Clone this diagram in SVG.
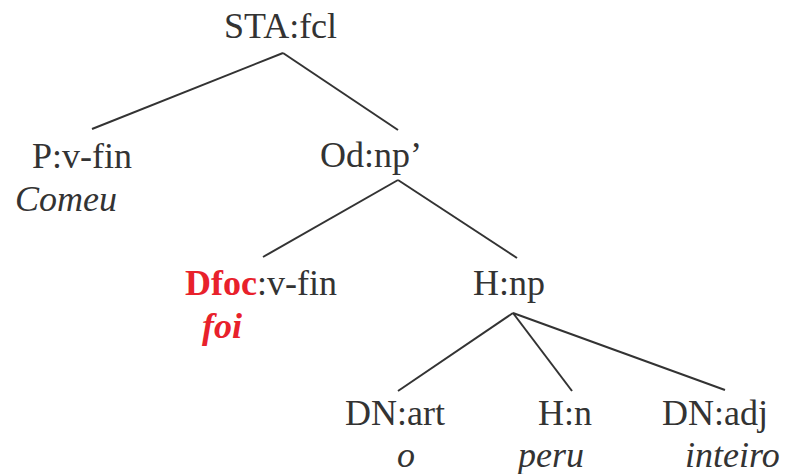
<svg xmlns="http://www.w3.org/2000/svg" width="786" height="474" viewBox="0 0 786 474">
<style>
.e{stroke:#333333;stroke-width:2;fill:none}
</style>
<rect width="786" height="474" fill="#ffffff"/>
<g id="edges">
<line class="e" x1="283" y1="53" x2="92" y2="129"/>
<line class="e" x1="283" y1="53" x2="398" y2="130"/>
<line class="e" x1="398" y1="180" x2="263" y2="257"/>
<line class="e" x1="398" y1="180" x2="517" y2="258"/>
<line class="e" x1="513" y1="313" x2="398" y2="391"/>
<line class="e" x1="513" y1="313" x2="572" y2="391"/>
<line class="e" x1="513" y1="313" x2="725" y2="390"/>
</g>
<g id="sta"><text style="font-family:'Liberation Serif';font-size:36px;fill:#333333" x="224" y="38">STA:fcl</text></g>
<g id="p"><text style="font-family:'Liberation Serif';font-size:36px;fill:#333333" x="32" y="168">P:v-fin</text><text style="font-family:'Liberation Serif';font-size:36px;fill:#333333;font-style:italic" x="15" y="211">Comeu</text></g>
<g id="od"><text style="font-family:'Liberation Serif';font-size:36px;fill:#333333" x="320" y="167">Od:np&#8217;</text></g>
<g id="dfoc"><text style="font-family:'Liberation Serif';font-size:36px;fill:#333333" x="185" y="295"><tspan style="fill:#e8212b;font-weight:bold">Dfoc</tspan>:v-fin</text><text style="font-family:'Liberation Serif';font-size:36px;fill:#e8212b;font-weight:bold;font-style:italic" x="202" y="338">foi</text></g>
<g id="hnp"><text style="font-family:'Liberation Serif';font-size:36px;fill:#333333" x="473" y="295">H:np</text></g>
<g id="dnart"><text style="font-family:'Liberation Serif';font-size:36px;fill:#333333" x="345" y="425">DN:art</text><text style="font-family:'Liberation Serif';font-size:36px;fill:#333333;font-style:italic" x="397" y="467">o</text></g>
<g id="hn"><text style="font-family:'Liberation Serif';font-size:36px;fill:#333333" x="538" y="425">H:n</text><text style="font-family:'Liberation Serif';font-size:36px;fill:#333333;font-style:italic" x="518" y="467">peru</text></g>
<g id="dnadj"><text style="font-family:'Liberation Serif';font-size:36px;fill:#333333" x="662" y="425">DN:adj</text><text style="font-family:'Liberation Serif';font-size:36px;fill:#333333;font-style:italic" x="685" y="467">inteiro</text></g>
</svg>
